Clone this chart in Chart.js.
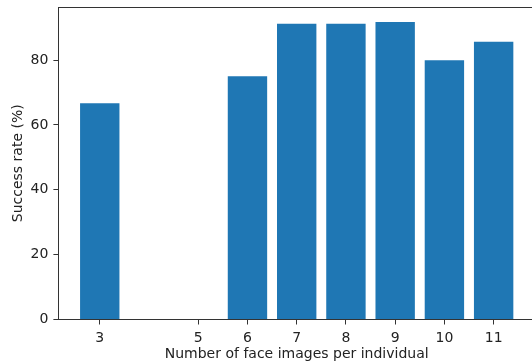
<!DOCTYPE html>
<html>
<head>
<meta charset="utf-8">
<script src="https://cdn.jsdelivr.net/npm/chart.js@4/dist/chart.umd.min.js"></script>
<style>
	html, body { margin: 0; padding: 0; background: #fff; overflow: hidden; }
	#wrap { width: 540px; height: 364px; }
</style>
</head>
<body>
<div id="wrap"><canvas id="chart" width="540" height="364"></canvas></div>
<script>
// Data
// ================================================================================
let face_counts = [3, 5, 6, 7, 8, 9, 10, 11];
let success_rates = [66.7, 0, 75.0, 91.2, 91.2, 91.8, 80.0, 85.7];
let x_ticks = [3, 5, 6, 7, 8, 9, 10, 11];
let y_ticks = [0, 20, 40, 60, 80];

let text_color = '#222';
let axis_color = '#333';

Chart.defaults.font.family = "'DejaVu Sans', sans-serif";
Chart.defaults.font.size = 14;
Chart.defaults.color = text_color;

// matplotlib draws a frame; only the top and left sides are in view
let top_spine = {
	id: 'top_spine',
	afterDraw(chart) {
		let a = chart.chartArea;
		let ctx = chart.ctx;
		ctx.save();
		ctx.strokeStyle = axis_color;
		ctx.lineWidth = 1;
		ctx.beginPath();
		ctx.moveTo(a.left, a.top + 0.5);
		ctx.lineTo(a.right, a.top + 0.5);
		ctx.stroke();
		ctx.restore();
	}
};

new Chart(document.getElementById('chart'), {
	type: 'bar',
	data: {
		datasets: [{
			data: face_counts.map((x, i) => ({x: x, y: success_rates[i]})),
			backgroundColor: '#1f77b4',
			borderWidth: 0,
			barPercentage: 0.8,
			categoryPercentage: 1.0
		}]
	},
	options: {
		responsive: false,
		animation: false,
		layout: { padding: { top: 7, right: 5, left: 0, bottom: 0 } },
		plugins: {
			legend: { display: false },
			tooltip: { enabled: false }
		},
		scales: {
			x: {
				type: 'linear',
				min: 2.16,
				max: 11.84,
				offset: false,
				afterBuildTicks: (scale) => { scale.ticks = x_ticks.map(v => ({value: v})); },
				afterFit: (scale) => {
					scale.height = 44.5;
					scale.paddingLeft = 0;
					scale.paddingRight = 0;
				},
				ticks: { padding: 5, maxRotation: 0, autoSkip: false, callback: (v) => String(v) },
				grid: { offset: false, drawOnChartArea: false, tickLength: 5, tickColor: axis_color },
				border: { color: axis_color, width: 1 },
				title: { display: true, text: 'Number of face images per individual', padding: { top: 0, bottom: 1 } }
			},
			y: {
				min: 0,
				max: 96.4,
				afterBuildTicks: (scale) => { scale.ticks = y_ticks.map(v => ({value: v})); },
				afterFit: (scale) => {
					// no extra room for half tick labels, the frame sits at the padding edge
					scale.width = 58.4;
					scale.paddingTop = 0;
					scale.paddingBottom = 0;
				},
				ticks: { padding: 5 },
				grid: { drawOnChartArea: false, tickLength: 5, tickColor: axis_color },
				border: { color: axis_color, width: 1 },
				title: { display: true, text: 'Success rate (%)', padding: { top: 9.5, bottom: 0 } }
			}
		}
	},
	plugins: [top_spine]
});
</script>
</body>
</html>
